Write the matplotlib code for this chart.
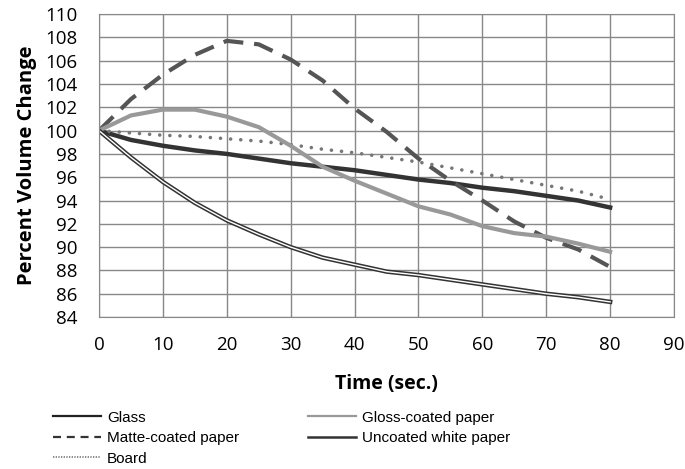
import matplotlib.pyplot as plt
import matplotlib.patheffects as pe
from matplotlib.lines import Line2D

# time axis (sec.)
t = [0, 5, 10, 15, 20, 25, 30, 35, 40, 45, 50, 55, 60, 65, 70, 75, 80]

glass = [100, 99.2, 98.7, 98.3, 98.0, 97.6, 97.2, 96.9, 96.6, 96.2, 95.8, 95.5, 95.1, 94.8, 94.4, 94.0, 93.4]
matte = [100, 102.7, 104.8, 106.5, 107.7, 107.4, 106.1, 104.3, 101.9, 99.9, 97.6, 95.7, 94.0, 92.2, 90.8, 89.8, 88.3]
gloss = [100, 101.3, 101.8, 101.8, 101.2, 100.3, 98.7, 96.9, 95.7, 94.6, 93.5, 92.8, 91.8, 91.2, 90.9, 90.3, 89.6]
board = [100, 99.8, 99.6, 99.5, 99.3, 99.1, 98.8, 98.4, 98.1, 97.7, 97.3, 96.8, 96.3, 95.8, 95.3, 94.8, 94.1]
uncoated = [100, 97.7, 95.6, 93.8, 92.3, 91.1, 90.0, 89.1, 88.5, 87.9, 87.6, 87.2, 86.8, 86.4, 86.0, 85.7, 85.3]

xticks = list(range(0, 100, 10))
yticks = list(range(84, 112, 2))

fig = plt.figure(figsize=(6.85, 4.69), dpi=100)
ax = fig.add_axes([0.1445, 0.324, 0.8395, 0.646])

ax.plot(t, glass, color='#333333', lw=3.2)
ax.plot(t, matte, color='#555555', lw=3, ls=(0, (4.8, 2.6)))
ax.plot(t, board, color='#777777', lw=2.6, ls=(0, (0.01, 2.8)), dash_capstyle='round')
ax.plot(t, gloss, color='#999999', lw=3)
ax.plot(t, uncoated, color='white', lw=1,
        path_effects=[pe.Stroke(linewidth=3.2, foreground='#333333'), pe.Normal()])

ax.set_xlim(0, 90)
ax.set_ylim(84, 110)
ax.set_xticks(xticks)
ax.set_yticks(yticks)
ax.grid(True, color='#888888', lw=1)
ax.set_axisbelow(True)
ax.tick_params(length=0, labelsize=13.5)
ax.tick_params(axis='y', pad=15.5)
ax.tick_params(axis='x', pad=14)
for lab in ax.get_xticklabels() + ax.get_yticklabels():
    lab.set_family('Open Sans')
for s in ax.spines.values():
    s.set_color('#888888')

ax.set_xlabel('Time (sec.)', fontsize=14, fontweight='bold', family='Open Sans', labelpad=14)
ax.set_ylabel('Percent Volume Change', fontsize=14.5, fontweight='bold', family='Open Sans', labelpad=6)

# thinner proxy lines for the legend, as in the original
h_glass = Line2D([], [], color='#222222', lw=1.6)
h_matte = Line2D([], [], color='#333333', lw=1.6, ls=(0, (3.6, 2.6)))
h_board = Line2D([], [], color='#777777', lw=1.2, ls=(0, (0.8, 0.8)))
h_gloss = Line2D([], [], color='#999999', lw=1.6)
h_unc = Line2D([], [], color='#333333', lw=1.8)

lp = {'family': 'Liberation Sans', 'size': 11}
fig.legend([h_glass, h_matte, h_board], ['Glass', 'Matte-coated paper', 'Board'],
           loc='upper left', bbox_to_anchor=(0.078, 0.124), frameon=False,
           borderpad=0, borderaxespad=0, handlelength=3.1, handletextpad=0.4,
           labelspacing=0.42, prop=lp)
fig.legend([h_gloss, h_unc], ['Gloss-coated paper', 'Uncoated white paper'],
           loc='upper left', bbox_to_anchor=(0.45, 0.124), frameon=False,
           borderpad=0, borderaxespad=0, handlelength=3.1, handletextpad=0.4,
           labelspacing=0.42, prop=lp)

fig.savefig('out.png', dpi=100)
